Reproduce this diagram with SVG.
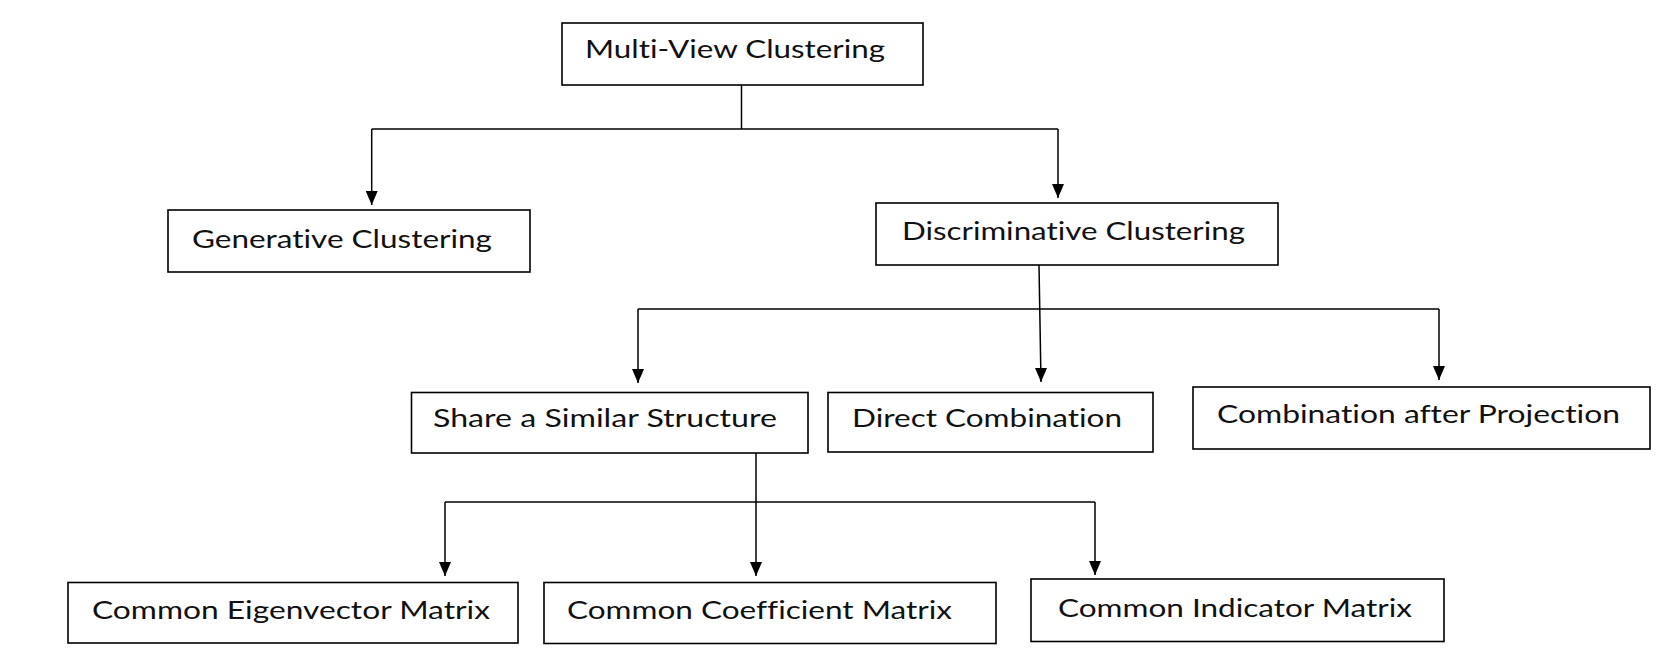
<svg xmlns="http://www.w3.org/2000/svg" width="1661" height="664" viewBox="0 0 1661 664">
<style>
.box{fill:#fff;stroke:#000;stroke-width:1.6}
.lbl{font-family:Lato,"Open Sans","Liberation Sans",sans-serif;font-size:25px;fill:#111;font-variant-ligatures:none;font-feature-settings:"liga" 0}
.con{fill:none;stroke:#000;stroke-width:1.5}
</style>
<defs>
<marker id="ah" markerUnits="userSpaceOnUse" markerWidth="14" markerHeight="16" refX="7" refY="15" orient="0" viewBox="0 0 14 16">
<path d="M1,1 L13,1 L7,15 Z" fill="#000"/>
</marker>
</defs>
<rect width="1661" height="664" fill="#fff"/>
<g id="connectors">
<path class="con" d="M741.5,85 L741.5,129"/>
<path class="con" d="M371.7,129 L1058,129"/>
<path class="con" d="M371.7,129 L371.7,205" marker-end="url(#ah)"/>
<path class="con" d="M1058,129 L1058,198" marker-end="url(#ah)"/>
<path class="con" d="M1039,265 L1041,382" marker-end="url(#ah)"/>
<path class="con" d="M638,309 L1439,309"/>
<path class="con" d="M638,309 L638,383" marker-end="url(#ah)"/>
<path class="con" d="M1439,309 L1439,380" marker-end="url(#ah)"/>
<path class="con" d="M756,453 L756,576" marker-end="url(#ah)"/>
<path class="con" d="M445,502 L1095,502"/>
<path class="con" d="M445,502 L445,576" marker-end="url(#ah)"/>
<path class="con" d="M1095,502 L1095,575" marker-end="url(#ah)"/>
</g>
<g id="multi-view">
<rect class="box" x="562" y="23" width="361" height="62"/>
<text class="lbl" x="585" y="58" textLength="300" lengthAdjust="spacingAndGlyphs">Multi-View Clustering</text>
</g>
<g id="generative">
<rect class="box" x="168" y="210" width="362" height="62"/>
<text class="lbl" x="192" y="248" textLength="300" lengthAdjust="spacingAndGlyphs">Generative Clustering</text>
</g>
<g id="discriminative">
<rect class="box" x="876" y="203" width="402" height="62"/>
<text class="lbl" x="902" y="240" textLength="343" lengthAdjust="spacingAndGlyphs">Discriminative Clustering</text>
</g>
<g id="share">
<rect class="box" x="411.5" y="392.5" width="396.5" height="60.5"/>
<text class="lbl" x="433" y="427" textLength="344" lengthAdjust="spacingAndGlyphs">Share a Similar Structure</text>
</g>
<g id="direct">
<rect class="box" x="828" y="392.5" width="325" height="59.5"/>
<text class="lbl" x="852" y="427" textLength="270" lengthAdjust="spacingAndGlyphs">Direct Combination</text>
</g>
<g id="projection">
<rect class="box" x="1193" y="387" width="457" height="62"/>
<text class="lbl" x="1217" y="423" textLength="403" lengthAdjust="spacingAndGlyphs">Combination after Projection</text>
</g>
<g id="eigenvector">
<rect class="box" x="68" y="582.5" width="450" height="60.5"/>
<text class="lbl" x="92" y="619" textLength="398" lengthAdjust="spacingAndGlyphs">Common Eigenvector Matrix</text>
</g>
<g id="coefficient">
<rect class="box" x="544" y="582.5" width="452" height="61"/>
<text class="lbl" x="567" y="619" textLength="385" lengthAdjust="spacingAndGlyphs">Common Coefficient Matrix</text>
</g>
<g id="indicator">
<rect class="box" x="1031" y="579" width="413" height="62.5"/>
<text class="lbl" x="1058" y="617" textLength="354" lengthAdjust="spacingAndGlyphs">Common Indicator Matrix</text>
</g>
</svg>
